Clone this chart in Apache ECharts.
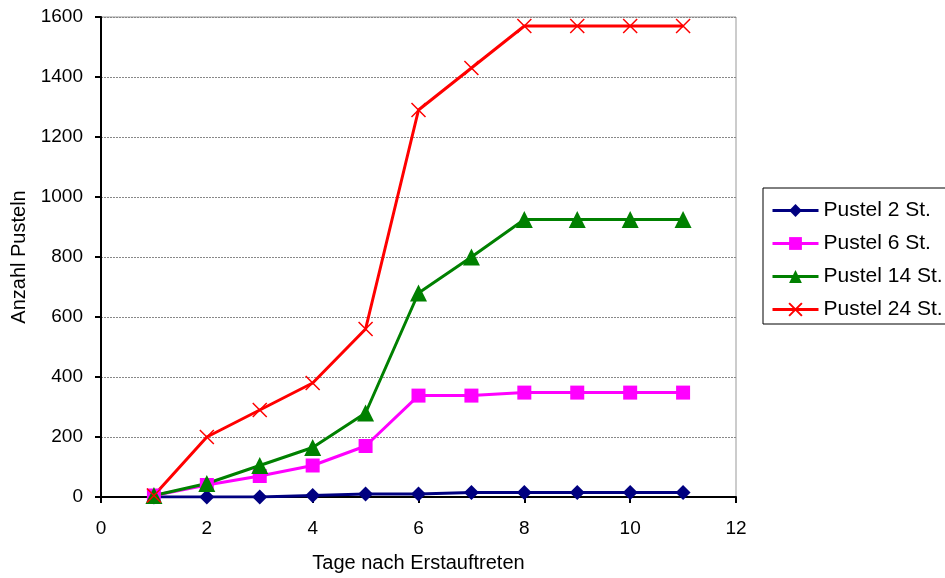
<!DOCTYPE html>
<html>
<head>
<meta charset="utf-8">
<script src="https://cdn.jsdelivr.net/npm/echarts@6/dist/echarts.min.js"></script>
<style>html,body{margin:0;padding:0;background:#fff}#c{width:945px;height:578px}</style>
</head>
<body>
<div id="c"></div>
<script>
const days = [1, 2, 3, 4, 5, 6, 7, 8, 9, 10, 11];
const seriesNames = ['Pustel 2 St.', 'Pustel 6 St.', 'Pustel 14 St.', 'Pustel 24 St.'];
const pustel2 = [0, 0, 0, 5, 10, 10, 15, 15, 15, 15, 15];
const pustel6 = [5, 40, 70, 105, 170, 338, 338, 348, 348, 348, 348];
const pustel14 = [5, 45, 105, 165, 280, 680, 800, 925, 925, 925, 925];
const pustel24 = [5, 200, 290, 380, 560, 1290, 1430, 1570, 1570, 1570, 1570];
const xTicks = [0, 2, 4, 6, 8, 10, 12];
const yTicks = [0, 200, 400, 600, 800, 1000, 1200, 1400, 1600];

const font = 'Liberation Sans, Arial, sans-serif';
const pair = arr => days.map((d, i) => [d, arr[i]]);
const crossPath = 'path://M0,0L10,10M10,0L0,10';

const chart = echarts.init(document.getElementById('c'));
chart.setOption({
  animation: false,
  backgroundColor: '#fff',
  textStyle: { fontFamily: font },
  grid: { left: 101, right: 209, top: 17, bottom: 81, show: true, borderColor: '#999', borderWidth: 1 },
  xAxis: {
    type: 'value', min: xTicks[0], max: xTicks[xTicks.length - 1], interval: 2,
    name: 'Tage nach Erstauftreten', nameLocation: 'middle', nameGap: 56,
    nameTextStyle: { fontSize: 20, color: '#000', fontFamily: font },
    axisLine: { show: true, onZero: false, lineStyle: { color: '#000', width: 2 } },
    axisTick: { show: true, inside: false, length: 6, lineStyle: { color: '#000', width: 2 } },
    axisLabel: { fontSize: 19, color: '#000', margin: 22, fontFamily: font },
    splitLine: { show: false }
  },
  yAxis: {
    type: 'value', min: yTicks[0], max: yTicks[yTicks.length - 1], interval: 200,
    name: 'Anzahl Pusteln', nameLocation: 'middle', nameGap: 72, nameRotate: 90,
    nameTextStyle: { fontSize: 20, color: '#000', fontFamily: font },
    axisLine: { show: true, lineStyle: { color: '#000', width: 2 } },
    axisTick: { show: true, inside: false, length: 6, lineStyle: { color: '#000', width: 2 } },
    axisLabel: { fontSize: 19, color: '#000', margin: 18, fontFamily: font, formatter: v => String(v) },
    splitLine: { show: true, lineStyle: { color: '#888', width: 1, type: [2, 1] } }
  },
  legend: {
    orient: 'vertical', left: 763, top: 188,
    padding: [12, 30, 4, 8],
    borderColor: '#000', borderWidth: 1,
    itemWidth: 46, itemHeight: 16, itemGap: 12,
    lineStyle: { width: 3 },
    textStyle: { fontSize: 21, color: '#000', fontFamily: font },
    data: seriesNames
  },
  series: [
    { name: seriesNames[0], type: 'line', data: pair(pustel2), symbol: 'diamond', symbolSize: 15,
      lineStyle: { color: '#000080', width: 3 }, itemStyle: { color: '#000080' } },
    { name: seriesNames[1], type: 'line', data: pair(pustel6), symbol: 'rect', symbolSize: 14,
      lineStyle: { color: '#FF00FF', width: 3 }, itemStyle: { color: '#FF00FF' } },
    { name: seriesNames[2], type: 'line', data: pair(pustel14), symbol: 'triangle', symbolSize: 17,
      lineStyle: { color: '#008000', width: 3 }, itemStyle: { color: '#008000' } },
    { name: seriesNames[3], type: 'line', data: pair(pustel24), symbol: crossPath, symbolSize: 14,
      lineStyle: { color: '#FF0000', width: 3 },
      itemStyle: { color: 'rgba(0,0,0,0)', borderColor: '#FF0000', borderWidth: 1.5 } }
  ]
});
</script>
</body>
</html>
